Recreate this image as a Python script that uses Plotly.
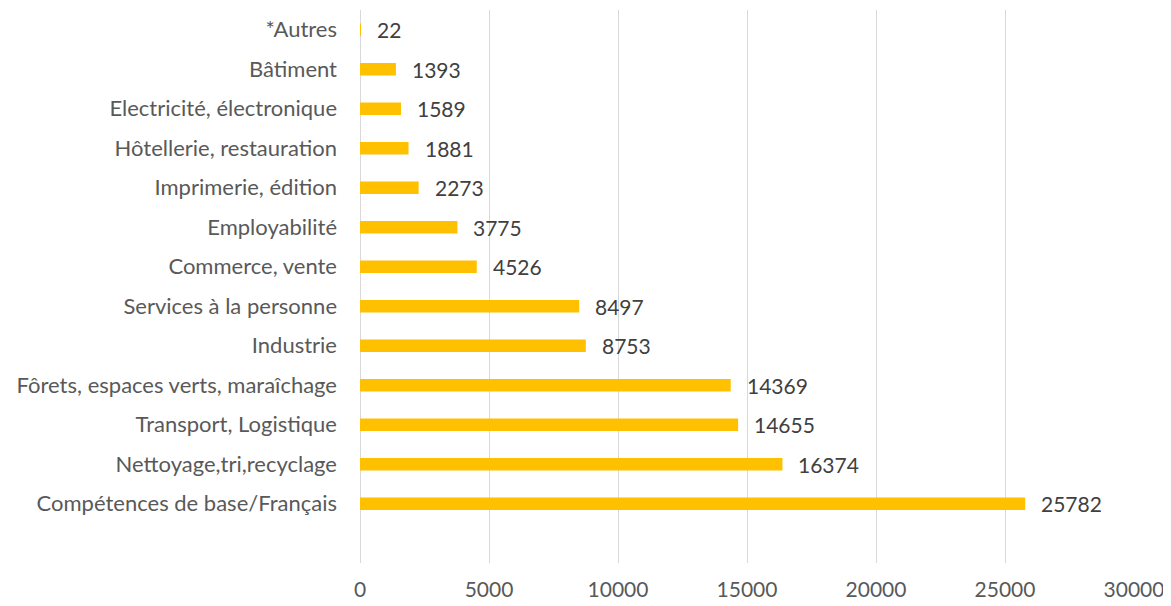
import plotly.graph_objects as go

categories = [
    "Compétences de base/Français",
    "Nettoyage,tri,recyclage",
    "Transport, Logistique",
    "Fôrets, espaces verts, maraîchage",
    "Industrie",
    "Services à la personne",
    "Commerce, vente",
    "Employabilité",
    "Imprimerie, édition",
    "Hôtellerie, restauration",
    "Electricité, électronique",
    "Bâtiment",
    "*Autres",
]
values = [25782, 16374, 14655, 14369, 8753, 8497, 4526, 3775, 2273, 1881, 1589, 1393, 22]
x_ticks = [0, 5000, 10000, 15000, 20000, 25000, 30000]

positions = list(range(len(categories)))
FONT = "Lato, Calibri, Carlito, sans-serif"

fig = go.Figure()
fig.add_trace(go.Bar(
    x=values, y=positions, orientation="h",
    marker=dict(color="#FFC000", line=dict(width=0)),
    width=0.32, hoverinfo="skip",
))
for v, p in zip(values, positions):
    fig.add_annotation(x=v, y=p, text=str(v), showarrow=False,
                       xanchor="left", yanchor="middle", xshift=14,
                       font=dict(family=FONT, size=21, color="#404040"))

fig.update_layout(
    width=1171, height=606,
    margin=dict(l=352, r=45, t=2, b=51, autoexpand=False),
    paper_bgcolor="white", plot_bgcolor="white",
    showlegend=False,
    font=dict(family=FONT, size=21, color="#595959"),
    xaxis=dict(range=[0, 30000], tickvals=x_ticks, ticktext=[str(t) for t in x_ticks],
               showgrid=True, gridcolor="#D9D9D9", gridwidth=1,
               zeroline=True, zerolinecolor="#D9D9D9", zerolinewidth=1,
               showline=False, ticks="", ticklabelstandoff=12,
               tickfont=dict(family=FONT, size=21, color="#595959")),
    yaxis=dict(range=[-1.5, 12.5], tickvals=positions, ticktext=categories,
               showgrid=False, zeroline=False, showline=False, ticks="",
               ticklabelstandoff=22,
               tickfont=dict(family=FONT, size=22, color="#595959")),
)
fig.write_html("out.html")
